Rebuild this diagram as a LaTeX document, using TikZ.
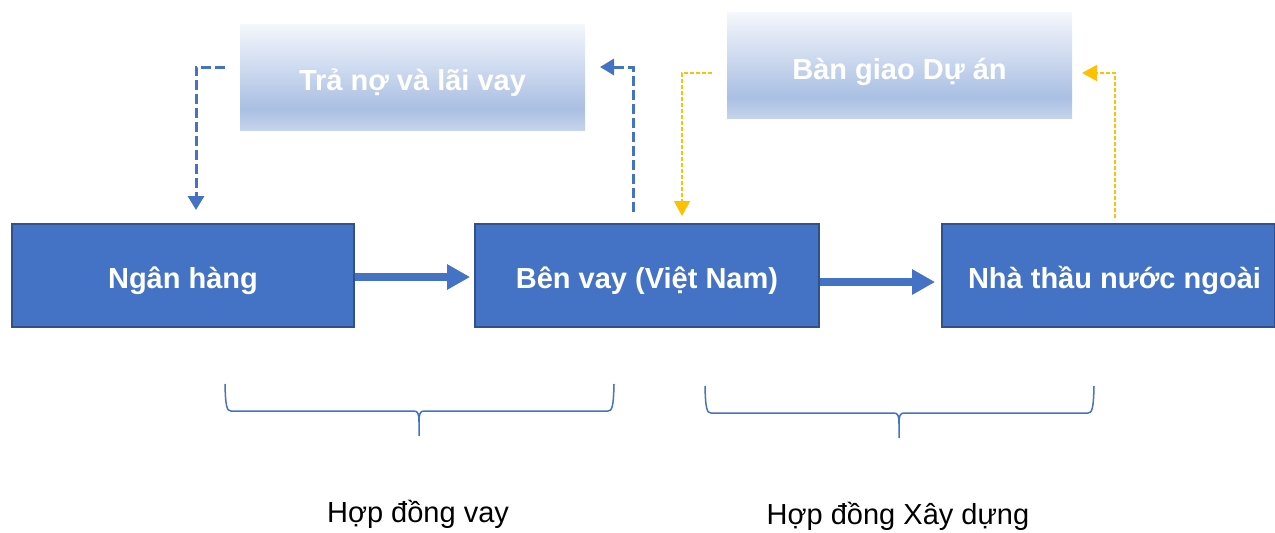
\documentclass[tikz,border=0pt]{standalone}
\usepackage{fontspec}
\setmainfont{Liberation Sans}
\usetikzlibrary{arrows.meta,calc}
\definecolor{mainblue}{HTML}{4472C4}
\definecolor{borderblue}{HTML}{2F528F}
\definecolor{gold}{HTML}{FFC000}
\definecolor{gtop}{HTML}{F4F7FC}
\definecolor{gmid}{HTML}{AABFE3}
\definecolor{gbot}{HTML}{C6D4EC}
\pgfdeclareverticalshading{lightgrad}{100bp}{color(0bp)=(gbot); color(25bp)=(gbot); color(35bp)=(gmid); color(75bp)=(gtop); color(100bp)=(gtop)}
\begin{document}
\begin{tikzpicture}[x=1pt,y=-1pt,
  boldtext/.style={text=white, font=\fontsize{29}{34}\selectfont\bfseries, text height=26pt, text depth=0pt},
  mainbox/.style={draw=borderblue, line width=1.8pt, fill=mainblue, minimum height=103pt, inner sep=0pt, boldtext},
  lightbox/.style={shading=lightgrad, minimum width=345pt, minimum height=106pt, inner sep=0pt, boldtext},
  flowarrow/.style={draw=mainblue, line width=8pt, -{Triangle[length=23pt,width=24pt]}},
  bluedash/.style={draw=mainblue, line width=3pt, dash pattern=on 10pt off 4pt, -{Triangle[length=14pt,width=16pt]}},
  golddash/.style={draw=gold, line width=1.5pt, dash pattern=on 4pt off 2pt, -{Triangle[length=15pt,width=16pt]}},
  bracestyle/.style={draw=mainblue, line width=1.5pt},
  caption/.style={font=\fontsize{29}{34}\selectfont, anchor=base, inner sep=0pt, text=black}
]
\useasboundingbox (0,0) rectangle (1275,533);

% light boxes
\node[lightbox] (tra) at (412.5,77) {Trả nợ và lãi vay};
\node[lightbox, text height=28pt] (bangiao) at (899.5,65.5) {Bàn giao Dự án};

% main boxes
\node[mainbox, minimum width=342pt] (ngan) at (183,275.5) {Ngân hàng};
\node[mainbox, minimum width=344pt] (benvay) at (647,275.5) {Bên vay (Việt Nam)};
\node[mainbox, minimum width=333pt,
  label={[xshift=6pt, boldtext, inner sep=0pt]center:Nhà thầu nước ngoài}] (nhathau) at (1108.5,275.5) {};

% flow arrows
\draw[flowarrow] ([yshift=-1.5pt]ngan.east) -- ([xshift=-4pt,yshift=-1.5pt]benvay.west);
\draw[flowarrow] ([yshift=-6.5pt]benvay.east) -- ([xshift=-6pt,yshift=-6.5pt]nhathau.west);

% dashed blue arrows
\coordinate (b1s) at (225,67);
\coordinate (b1e) at (196,210);
\draw[bluedash] (b1s) -| (b1e);
\coordinate (b2s) at (633,212);
\coordinate (b2e) at (600,67);
\draw[bluedash] (b2s) |- (b2e);

% dashed gold arrows
\coordinate (g1s) at (712,73);
\coordinate (g1e) at (682,216);
\draw[golddash] (g1s) -| (g1e);
\coordinate (g2s) at (1115,218);
\coordinate (g2e) at (1082,73);
\draw[golddash] (g2s) |- (g2e);

% braces
\draw[bracestyle] (225,384) .. controls (225.5,407) and (227,411) .. (231,411) -- (414,411)
  .. controls (418,411) and (419,414) .. (419,422) -- (419,436)
  (419,422) .. controls (419,414) and (420,411) .. (424,411) -- (608,411)
  .. controls (612,411) and (613.5,407) .. (614,384);
\draw[bracestyle] (705,386) .. controls (705.5,409) and (707,413) .. (711,413) -- (894,413)
  .. controls (898,413) and (899,416) .. (899,424) -- (899,438)
  (899,424) .. controls (899,416) and (900,413) .. (904,413) -- (1088,413)
  .. controls (1092,413) and (1093.5,409) .. (1094,386);

% captions
\node[caption] (cap1) at (418,522) {Hợp đồng vay};
\node[caption] (cap2) at (898,524) {Hợp đồng Xây dựng};
\end{tikzpicture}
\end{document}
